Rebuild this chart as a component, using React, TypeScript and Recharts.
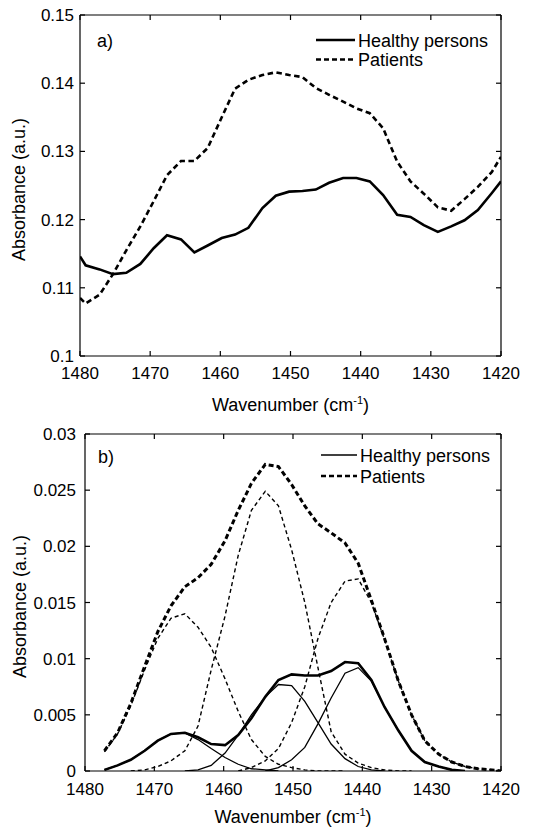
import React from 'react';
import { LineChart, Line, XAxis, YAxis } from 'recharts';

const FONT = '"Liberation Sans", Arial, Helvetica, sans-serif';

// ---------- Panel a ----------
const WN_A = [1480, 1479.2, 1477.2, 1475.3, 1473.4, 1471.4, 1469.5, 1467.6, 1465.6, 1463.7, 1461.8, 1459.8, 1457.9, 1456.0, 1454.0, 1452.1, 1450.2, 1448.3, 1446.4, 1444.5, 1442.5, 1440.6, 1438.7, 1436.8, 1434.8, 1432.9, 1431.0, 1429.0, 1427.1, 1425.2, 1423.3, 1421.3, 1420];
const HEALTHY_A = [0.1146, 0.1133, 0.1127, 0.1120, 0.1122, 0.1135, 0.1158, 0.1177, 0.1171, 0.1152, 0.1162, 0.1173, 0.1178, 0.1188, 0.1217, 0.1235, 0.1241, 0.1242, 0.1244, 0.1254, 0.1261, 0.1261, 0.1256, 0.1236, 0.1207, 0.1204, 0.1192, 0.1182, 0.1190, 0.1199, 0.1214, 0.1239, 0.1256];
const PATIENTS_A = [0.1085, 0.1077, 0.1090, 0.1120, 0.1155, 0.1190, 0.1227, 0.1265, 0.1286, 0.1286, 0.1305, 0.1350, 0.1392, 0.1405, 0.1412, 0.1416, 0.1412, 0.1409, 0.1393, 0.1383, 0.1373, 0.1363, 0.1356, 0.1334, 0.1285, 0.1256, 0.1238, 0.1218, 0.1213, 0.1230, 0.1248, 0.1270, 0.1292];
const Y_TICKS_A = [0.1, 0.11, 0.12, 0.13, 0.14, 0.15];

// ---------- Panel b ----------
const WN_B = [1477.2, 1475.3, 1473.4, 1471.4, 1469.5, 1467.6, 1465.6, 1463.7, 1461.8, 1459.8, 1457.9, 1456.0, 1454.0, 1452.1, 1450.2, 1448.3, 1446.4, 1444.5, 1442.5, 1440.6, 1438.7, 1436.8, 1434.8, 1432.9, 1431.0, 1429.0, 1427.1, 1425.2, 1423.3, 1421.3, 1420];
const _ = null;
const PATIENTS_SUM = [0.0018, 0.0034, 0.0060, 0.0093, 0.0124, 0.0147, 0.0164, 0.0172, 0.0184, 0.0205, 0.0232, 0.0256, 0.0273, 0.0271, 0.0255, 0.0236, 0.0220, 0.0212, 0.0203, 0.0185, 0.0152, 0.0118, 0.0080, 0.0050, 0.0027, 0.0015, 0.0008, 0.0004, 0.0002, 0.0001, 0.0000];
const PATIENTS_C1 = [0.0017, 0.0033, 0.0058, 0.0090, 0.0118, 0.0136, 0.0140, 0.0128, 0.0110, 0.0082, 0.0053, 0.0028, 0.0013, 0.0006, 0.0003, 0.0001, 0.0000, 0.0000, 0.0000, _, _, _, _, _, _, _, _, _, _, _, _];
const PATIENTS_C2 = [_, _, 0.0000, 0.0001, 0.0004, 0.0009, 0.0018, 0.0040, 0.0090, 0.0138, 0.0192, 0.0232, 0.0249, 0.0236, 0.0197, 0.0150, 0.0092, 0.0035, 0.0015, 0.0007, 0.0003, 0.0001, 0.0000, 0.0000, _, _, _, _, _, _, _];
const PATIENTS_C3 = [_, _, _, _, _, _, _, _, _, _, 0.0000, 0.0003, 0.0009, 0.0020, 0.0043, 0.0075, 0.0118, 0.0150, 0.0169, 0.0171, 0.0150, 0.0117, 0.0080, 0.0050, 0.0027, 0.0015, 0.0008, 0.0004, 0.0002, 0.0001, 0.0000];
const HEALTHY_SUM = [0.0001, 0.0005, 0.0010, 0.0018, 0.0027, 0.0033, 0.0034, 0.0030, 0.0024, 0.0023, 0.0032, 0.0047, 0.0066, 0.0081, 0.0086, 0.0085, 0.0085, 0.0089, 0.0097, 0.0096, 0.0081, 0.0057, 0.0036, 0.0018, 0.0008, 0.0004, 0.0001, 0.0000, _, _, _];
const HEALTHY_C1 = [0.0001, 0.0005, 0.0010, 0.0018, 0.0027, 0.0033, 0.0034, 0.0028, 0.0020, 0.0012, 0.0006, 0.0002, 0.0001, 0.0000, _, _, _, _, _, _, _, _, _, _, _, _, _, _, _, _, _];
const HEALTHY_C2 = [_, _, _, _, _, _, 0.0000, 0.0001, 0.0005, 0.0016, 0.0032, 0.0050, 0.0066, 0.0077, 0.0076, 0.0062, 0.0043, 0.0024, 0.0011, 0.0004, 0.0001, 0.0000, _, _, _, _, _, _, _, _, _];
const HEALTHY_C3 = [_, _, _, _, _, _, _, _, _, _, _, _, 0.0000, 0.0003, 0.0010, 0.0021, 0.0042, 0.0065, 0.0087, 0.0092, 0.0080, 0.0057, 0.0036, 0.0018, 0.0008, 0.0004, 0.0001, 0.0000, _, _, _];
const Y_TICKS_B = [0, 0.005, 0.01, 0.015, 0.02, 0.025, 0.03];

const X_TICKS = [1420, 1430, 1440, 1450, 1460, 1470, 1480];
const X_DOMAIN: [number, number] = [1420, 1480];
const LEGEND_LABELS = ['Healthy persons', 'Patients'];

const toSeries = (wn: number[], vals: (number | null)[]) =>
  wn.map((w, i) => ({ w, v: vals[i] })).filter((p) => p.v !== null && p.v !== undefined);

const tickStyle = { fill: '#000', fontSize: 17, fontFamily: FONT };
const blank = () => '';

const XTitle = (dy: number) => (props: any) => {
  const vb = props.viewBox || {};
  return (
    <text x={vb.x + vb.width / 2} y={vb.y + dy} textAnchor="middle" fontSize={18} fontFamily={FONT} fill="#000">
      Wavenumber (cm
      <tspan fontSize={11} dy={-7}>-1</tspan>
      <tspan dy={7}>)</tspan>
    </text>
  );
};

const YTitle = (dx: number) => (props: any) => {
  const vb = props.viewBox || {};
  const x = vb.x + dx;
  const y = vb.y + vb.height / 2 + 4;
  return (
    <text x={x} y={y} transform={`rotate(-90, ${x}, ${y})`} textAnchor="middle" fontSize={18} fontFamily={FONT} fill="#000">
      Absorbance (a.u.)
    </text>
  );
};

function LegendGroup(p: { tag: string; tagX: number; tagY: number; lx: number; y1: number; y2: number; len: number; w1: number }) {
  return (
    <g>
      <text x={p.tagX} y={p.tagY} fontSize={18} fontFamily={FONT} fill="#000">{p.tag}</text>
      <line x1={p.lx} x2={p.lx + p.len} y1={p.y1} y2={p.y1} stroke="#000" strokeWidth={p.w1} />
      <text x={p.lx + p.len + 3} y={p.y1 + 6.5} fontSize={18} fontFamily={FONT} fill="#000">{LEGEND_LABELS[0]}</text>
      <line x1={p.lx} x2={p.lx + p.len} y1={p.y2} y2={p.y2} stroke="#000" strokeWidth={2.6} strokeDasharray="5 3" />
      <text x={p.lx + p.len + 3} y={p.y2 + 6.5} fontSize={18} fontFamily={FONT} fill="#000">{LEGEND_LABELS[1]}</text>
    </g>
  );
}

export default function App() {
  const healthyA = toSeries(WN_A, HEALTHY_A);
  const patientsA = toSeries(WN_A, PATIENTS_A);

  const pSum = toSeries(WN_B, PATIENTS_SUM);
  const pC1 = toSeries(WN_B, PATIENTS_C1);
  const pC2 = toSeries(WN_B, PATIENTS_C2);
  const pC3 = toSeries(WN_B, PATIENTS_C3);
  const hSum = toSeries(WN_B, HEALTHY_SUM);
  const hC1 = toSeries(WN_B, HEALTHY_C1);
  const hC2 = toSeries(WN_B, HEALTHY_C2);
  const hC3 = toSeries(WN_B, HEALTHY_C3);

  const axisLine = { stroke: '#000', strokeWidth: 1.2 };
  const tickLine = { stroke: '#000', strokeWidth: 1.2 };

  const renderAxes = (yDomain: [number, number], yTicks: number[], yWidth: number, xH: number, xMargin: number, yMargin: number, titleDy: number, titleDx: number) => [
    <XAxis key="x" xAxisId="x" dataKey="w" type="number" domain={X_DOMAIN} ticks={X_TICKS} reversed allowDataOverflow
      orientation="bottom" height={xH} tickLine={false} tickSize={0} tickMargin={xMargin} axisLine={axisLine} tick={tickStyle}
      interval={0} label={{ content: XTitle(titleDy) } as any} />,
    <XAxis key="xb" xAxisId="xb" dataKey="w" type="number" domain={X_DOMAIN} ticks={X_TICKS} reversed allowDataOverflow
      orientation="bottom" mirror tickLine={tickLine} tickSize={5} tickFormatter={blank} axisLine={false} interval={0} />,
    <XAxis key="xt" xAxisId="xt" dataKey="w" type="number" domain={X_DOMAIN} ticks={X_TICKS} reversed allowDataOverflow
      orientation="top" mirror tickLine={tickLine} tickSize={5} tickFormatter={blank} axisLine={axisLine} interval={0} />,
    <YAxis key="y" yAxisId="y" type="number" domain={yDomain} ticks={yTicks} allowDataOverflow orientation="left" width={yWidth}
      tickLine={false} tickSize={0} tickMargin={yMargin} axisLine={axisLine} tick={tickStyle} interval={0}
      label={{ content: YTitle(titleDx) } as any} />,
    <YAxis key="yl" yAxisId="yl" type="number" domain={yDomain} ticks={yTicks} allowDataOverflow orientation="left" mirror
      tickLine={tickLine} tickSize={5} tickFormatter={blank} axisLine={false} interval={0} />,
    <YAxis key="yr" yAxisId="yr" type="number" domain={yDomain} ticks={yTicks} allowDataOverflow orientation="right" mirror
      tickLine={tickLine} tickSize={5} tickFormatter={blank} axisLine={axisLine} interval={0} />,
  ];

  return (
    <div style={{ position: 'absolute', left: 0, top: 0, width: 543, height: 830, background: '#fff', overflow: 'hidden' }}>
      <div style={{ position: 'absolute', left: 0, top: 0 }}>
        <LineChart width={543} height={425} margin={{ top: 15, right: 42, bottom: 17, left: 0 }}>
          {renderAxes([0.1, 0.15], Y_TICKS_A, 80, 52, 11, 6, 55, 25)}
          <Line xAxisId="x" yAxisId="y" data={healthyA} dataKey="v" type="linear" stroke="#000" strokeWidth={2.6} dot={false} isAnimationActive={false} name="Healthy persons" />
          <Line xAxisId="x" yAxisId="y" data={patientsA} dataKey="v" type="linear" stroke="#000" strokeWidth={2.6} strokeDasharray="5.5 3.5" dot={false} isAnimationActive={false} name="Patients" />
        </LineChart>
      </div>
      <div style={{ position: 'absolute', left: 0, top: 408 }}>
        <LineChart width={543} height={422} margin={{ top: 26, right: 42, bottom: 0, left: 0 }}>
          {renderAxes([0, 0.03], Y_TICKS_B, 85, 59, 12, 9, 52, 26)}
          <Line xAxisId="x" yAxisId="y" data={pC1} dataKey="v" type="linear" stroke="#000" strokeWidth={1.4} strokeDasharray="4 3" dot={false} isAnimationActive={false} />
          <Line xAxisId="x" yAxisId="y" data={pC2} dataKey="v" type="linear" stroke="#000" strokeWidth={1.4} strokeDasharray="4 3" dot={false} isAnimationActive={false} />
          <Line xAxisId="x" yAxisId="y" data={pC3} dataKey="v" type="linear" stroke="#000" strokeWidth={1.4} strokeDasharray="4 3" dot={false} isAnimationActive={false} />
          <Line xAxisId="x" yAxisId="y" data={hC1} dataKey="v" type="linear" stroke="#000" strokeWidth={1.3} dot={false} isAnimationActive={false} />
          <Line xAxisId="x" yAxisId="y" data={hC2} dataKey="v" type="linear" stroke="#000" strokeWidth={1.3} dot={false} isAnimationActive={false} />
          <Line xAxisId="x" yAxisId="y" data={hC3} dataKey="v" type="linear" stroke="#000" strokeWidth={1.3} dot={false} isAnimationActive={false} />
          <Line xAxisId="x" yAxisId="y" data={pSum} dataKey="v" type="linear" stroke="#000" strokeWidth={3} strokeDasharray="5 3" dot={false} isAnimationActive={false} name="Patients" />
          <Line xAxisId="x" yAxisId="y" data={hSum} dataKey="v" type="linear" stroke="#000" strokeWidth={2.6} dot={false} isAnimationActive={false} name="Healthy persons" />
        </LineChart>
      </div>
      <svg width={543} height={830} style={{ position: 'absolute', left: 0, top: 0, pointerEvents: 'none' }}>
        <LegendGroup tag="a)" tagX={97} tagY={47} lx={316} y1={40} y2={59.5} len={39} w1={2.6} />
        <LegendGroup tag="b)" tagX={98} tagY={463} lx={321} y1={455} y2={476} len={36} w1={1.6} />
      </svg>
    </div>
  );
}
